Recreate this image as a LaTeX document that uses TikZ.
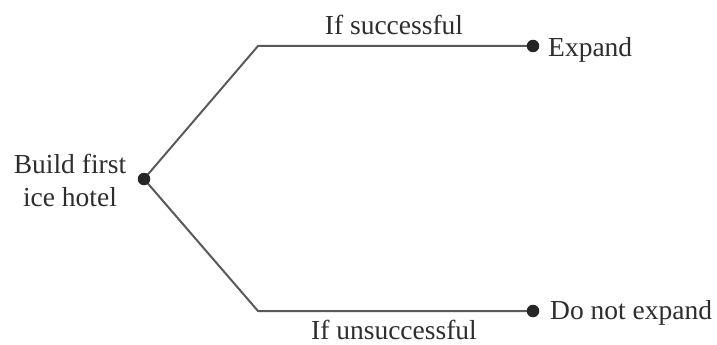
\documentclass[tikz,border=0pt]{standalone}
\usepackage{fontspec}
\setmainfont{Liberation Serif}
\pgfdeclarelayer{bg}
\pgfsetlayers{bg,main}
\begin{document}
\begin{tikzpicture}[x=1pt,y=-1pt,
  lbl/.style={text=black!82, font=\fontsize{27.5}{33}\selectfont, inner sep=0pt},
  branch/.style={draw=black!65, line width=2pt},
  dotnode/.style={circle, fill=black!85, inner sep=0pt, minimum size=12.5pt}]
\begin{pgfonlayer}{bg}
\useasboundingbox[fill=white] (0,0) rectangle (717,345);
\end{pgfonlayer}
\node[dotnode] (root) at (144,179) {};
\coordinate (cu) at (258,46);
\coordinate (cl) at (258,311);
\node[dotnode] (up) at (533,46) {};
\node[dotnode] (lo) at (533,311) {};
\begin{pgfonlayer}{bg}
\draw[branch] (root.center) -- (cu) -- (up.center);
\draw[branch] (root.center) -- (cl) -- (lo.center);
\end{pgfonlayer}
\node[lbl, align=center] (start) at (70,180) {Build first\\ice hotel};
\node[lbl, anchor=west] (ex) at (548,49.5) {Expand};
\node[lbl, anchor=west] (nex) at (550,313) {Do not expand};
\node[lbl] (s) at (394,25) {If successful};
\node[lbl] (u) at (394,330) {If unsuccessful};
\end{tikzpicture}
\end{document}
